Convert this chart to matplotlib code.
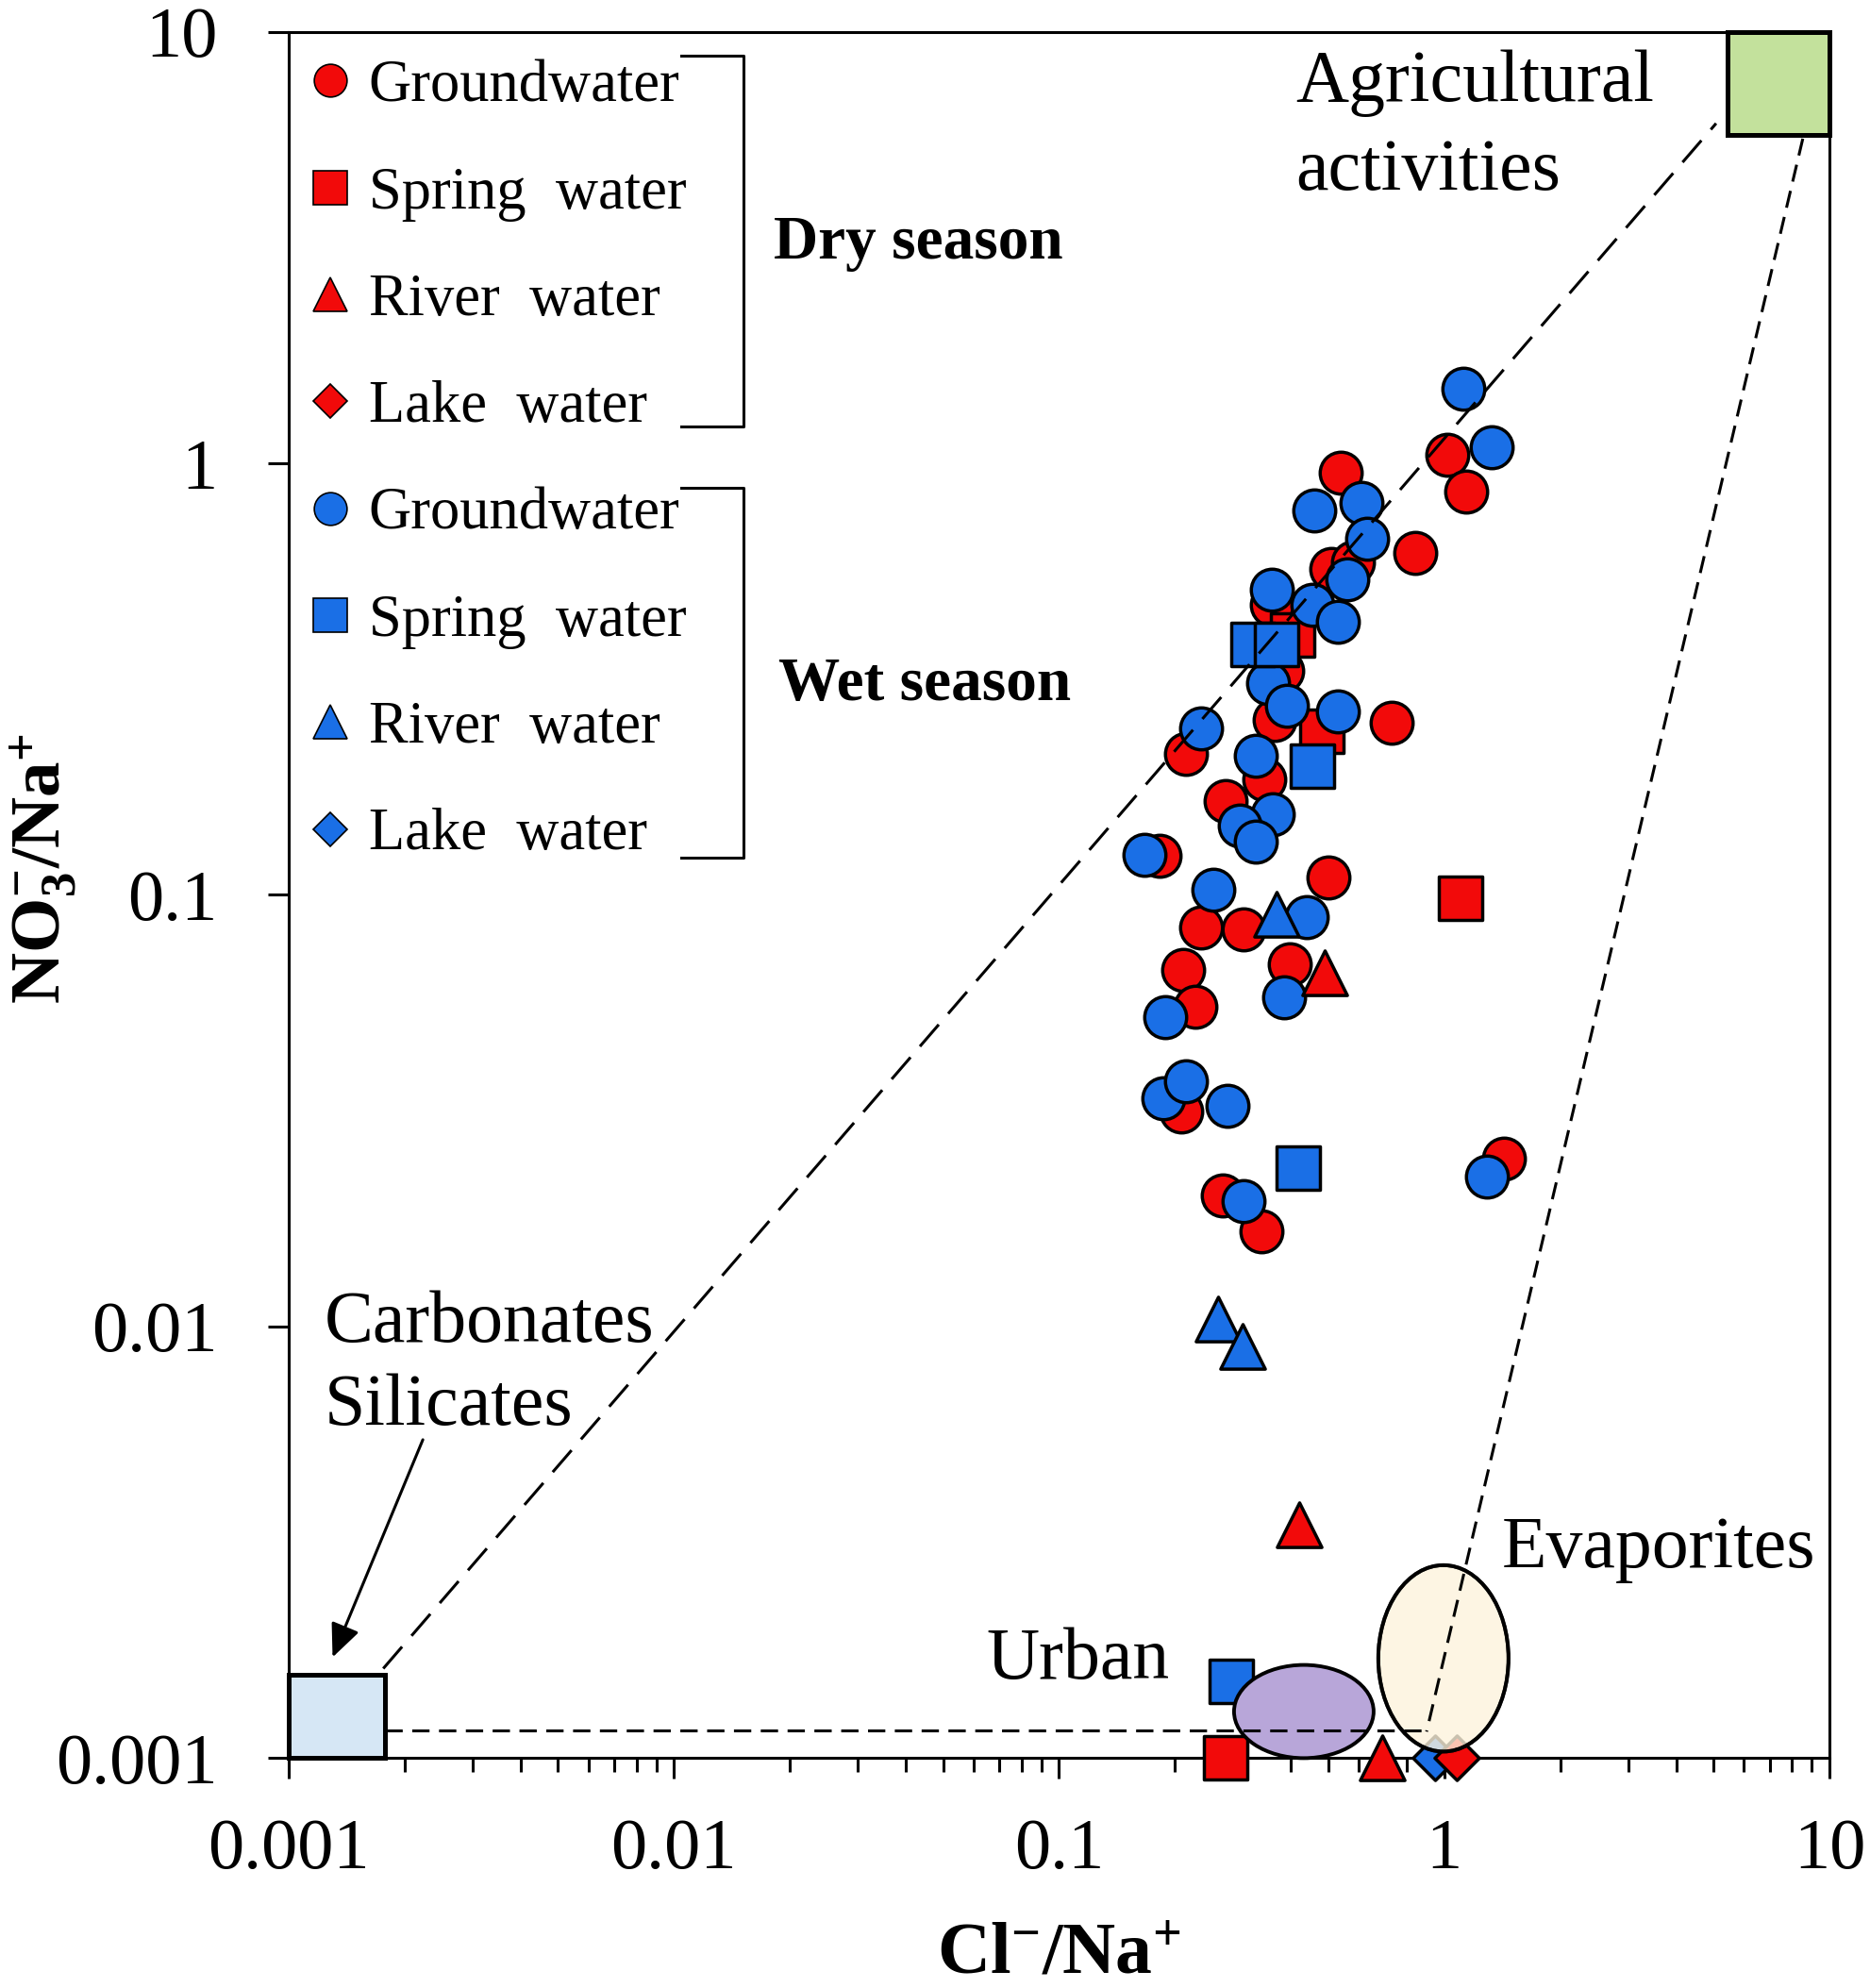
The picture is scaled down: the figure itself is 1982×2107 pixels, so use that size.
import numpy as np
import matplotlib.pyplot as plt
from matplotlib.lines import Line2D
from matplotlib.patches import Rectangle, Ellipse
from matplotlib.ticker import FuncFormatter, NullFormatter, NullLocator, LogLocator

plt.rcParams['font.family'] = ['Liberation Serif', 'DejaVu Serif']
plt.rcParams['mathtext.fontset'] = 'custom'
plt.rcParams['mathtext.rm'] = 'Liberation Serif'
plt.rcParams['mathtext.bf'] = 'Liberation Serif:bold'
plt.rcParams['mathtext.it'] = 'Liberation Serif:italic'

# Dry season (red)
dry_gw_x = [1.02, 1.14, 0.54, 0.84, 0.51, 0.58, 0.356, 0.38, 0.362, 0.73, 0.214, 0.342, 0.27,
            0.182, 0.50, 0.234, 0.302, 0.21, 0.398, 0.226, 0.208, 1.43, 0.266, 0.336]
dry_gw_y = [1.05, 0.86, 0.95, 0.62, 0.57, 0.59, 0.47, 0.33, 0.255, 0.25, 0.212, 0.185, 0.165,
            0.123, 0.110, 0.084, 0.083, 0.067, 0.069, 0.055, 0.0315, 0.0245, 0.0201, 0.0166]
dry_sp_x = [0.405, 0.48, 1.10, 0.27]
dry_sp_y = [0.40, 0.24, 0.098, 0.001]
dry_rv_x = [0.49, 0.42, 0.69]
dry_rv_y = [0.066, 0.00347, 0.001]
dry_lk_x = [1.08]
dry_lk_y = [0.001]

# Wet season (blue)
wet_gw_x = [1.12, 1.33, 0.46, 0.61, 0.63, 0.56, 0.356, 0.454, 0.53, 0.348, 0.39, 0.53, 0.234,
            0.324, 0.358, 0.294, 0.324, 0.167, 0.251, 0.44, 0.189, 0.383, 0.186, 0.214, 0.273,
            1.29, 0.302]
wet_gw_y = [1.49, 1.09, 0.78, 0.81, 0.67, 0.54, 0.51, 0.47, 0.43, 0.31, 0.275, 0.266, 0.243,
            0.21, 0.154, 0.145, 0.133, 0.124, 0.103, 0.089, 0.052, 0.058, 0.0337, 0.0369, 0.0325,
            0.0222, 0.0195]
wet_sp_x = [0.318, 0.366, 0.454, 0.417, 0.28]
wet_sp_y = [0.38, 0.38, 0.199, 0.0233, 0.0015]
wet_rv_x = [0.366, 0.258, 0.299]
wet_rv_y = [0.090, 0.0104, 0.0090]
wet_lk_x = [0.945]
wet_lk_y = [0.001]

legend_labels = ['Groundwater', 'Spring  water', 'River  water', 'Lake  water']

RED = '#f20a0a'
BLUE = '#1a6fe6'

fig = plt.figure(figsize=(19.83, 21.07), dpi=100)
ax = fig.add_axes([0.1543, 0.1158, 0.8235, 0.8681])
ax.set_xscale('log')
ax.set_yscale('log')
ax.set_xlim(0.001, 10)
ax.set_ylim(0.001, 10)

common = dict(edgecolors='black', linewidths=2.5, clip_on=False)
ax.scatter(dry_gw_x, dry_gw_y, s=32**2, marker='o', c=RED, zorder=3, **common)
ax.scatter(dry_sp_x, dry_sp_y, s=33**2, marker='s', c=RED, zorder=3.1, **common)
ax.scatter(wet_gw_x, wet_gw_y, s=32**2, marker='o', c=BLUE, zorder=4, **common)
ax.scatter(wet_sp_x, wet_sp_y, s=33**2, marker='s', c=BLUE, zorder=4.1, **common)
ax.scatter(wet_rv_x, wet_rv_y, s=34**2, marker='^', c=BLUE, zorder=4.2, **common)
ax.scatter(wet_lk_x, wet_lk_y, s=24**2, marker='D', c=BLUE, zorder=4.3, **common)
ax.scatter(dry_lk_x, dry_lk_y, s=24**2, marker='D', c=RED, zorder=4.4, **common)
ax.scatter(dry_rv_x, dry_rv_y, s=34**2, marker='^', c=RED, zorder=6, **common)

# source end-members
ax.add_patch(Rectangle((0.001, 0.001), 0.00178 - 0.001, 0.00156 - 0.001,
                       facecolor='#d6e7f5', edgecolor='black', lw=3.6, zorder=5, clip_on=False))
ax.add_patch(Rectangle((5.43, 5.77), 10 - 5.43, 10 - 5.77,
                       facecolor='#c3e19c', edgecolor='black', lw=3.6, zorder=5, clip_on=False))


def to_axes(x, y):
    return ax.transAxes.inverted().transform(ax.transData.transform((x, y)))


ax.add_patch(Ellipse(to_axes(0.432, 0.00128), 0.0906, 0.054, transform=ax.transAxes,
                     facecolor='#b8a6d9', edgecolor='black', lw=2.8, zorder=4.6, clip_on=False))
ax.add_patch(Ellipse(to_axes(0.995, 0.0017), 0.0845, 0.108, transform=ax.transAxes,
                     facecolor='#fdf3dc', edgecolor='black', lw=2.8, alpha=0.8, zorder=5,
                     clip_on=False))
ax.add_patch(Ellipse(to_axes(0.995, 0.0017), 0.0845, 0.108, transform=ax.transAxes,
                     facecolor='none', edgecolor='black', lw=2.8, zorder=5.1, clip_on=False))

# mixing lines
ax.plot([0.00176, 5.08], [0.00161, 6.14], color='black', lw=2.2, ls=(0, (10, 5)), zorder=7)
ax.plot([0.00178, 0.9], [0.00116, 0.00116], color='black', lw=2.2, ls=(0, (6, 3.3)), zorder=7)
ax.plot([8.53, 0.9], [5.66, 0.00115], color='black', lw=2.2, ls=(0, (6, 3.3)), zorder=7)

ax.annotate('', xy=(0.0013, 0.00171), xytext=(0.00223, 0.00546),
            arrowprops=dict(arrowstyle='-|>,head_length=0.45,head_width=0.2', color='black',
                            lw=2.2, mutation_scale=48, shrinkA=0, shrinkB=0), zorder=7)

ax.text(0.6534, 0.9445, 'Agricultural\nactivities', transform=ax.transAxes, fontsize=56,
        ha='left', va='center', linespacing=1.42)
ax.text(0.0233, 0.2275, 'Carbonates\nSilicates', transform=ax.transAxes, fontsize=56,
        ha='left', va='center', linespacing=1.3)
ax.text(0.7875, 0.1208, 'Evaporites', transform=ax.transAxes, fontsize=56, ha='left', va='center')
ax.text(0.4525, 0.0563, 'Urban', transform=ax.transAxes, fontsize=56, ha='left', va='center')

# legend
handles = []
for col in (RED, BLUE):
    handles += [Line2D([], [], ls='none', marker='o', ms=25, mfc=col, mec='black', mew=1.2),
                Line2D([], [], ls='none', marker='s', ms=26, mfc=col, mec='black', mew=1.2),
                Line2D([], [], ls='none', marker='^', ms=26, mfc=col, mec='black', mew=1.2),
                Line2D([], [], ls='none', marker='D', ms=18, mfc=col, mec='black', mew=1.2)]
ax.legend(handles, legend_labels * 2, loc='upper left', bbox_to_anchor=(0.0116, 0.984),
          frameon=False, fontsize=45, handlelength=0.8, handletextpad=0.25, labelspacing=0.885,
          borderpad=0, borderaxespad=0)

for top, bot in ((0.9863, 0.7715), (0.7359, 0.5216)):
    ax.plot([0.2547, 0.2952, 0.2952, 0.2547], [top, top, bot, bot], transform=ax.transAxes,
            color='black', lw=2.2, clip_on=False)
ax.text(0.3148, 0.8775, 'Dry season', transform=ax.transAxes, fontsize=47, fontweight='bold',
        ha='left', va='center')
ax.text(0.318, 0.6217, 'Wet season', transform=ax.transAxes, fontsize=47, fontweight='bold',
        ha='left', va='center')

# axes
fmt = FuncFormatter(lambda v, pos: f'{v:g}')
ax.xaxis.set_major_formatter(fmt)
ax.yaxis.set_major_formatter(fmt)
ax.xaxis.set_minor_locator(LogLocator(base=10, subs=np.arange(2, 10)))
ax.xaxis.set_minor_formatter(NullFormatter())
ax.yaxis.set_minor_locator(NullLocator())
ax.tick_params(axis='both', which='major', direction='out', length=16, width=2.2, labelsize=55)
ax.tick_params(axis='x', which='major', pad=30)
ax.tick_params(axis='y', which='major', pad=38)
ax.tick_params(axis='x', which='minor', direction='out', length=11, width=2.2)
for sp in ax.spines.values():
    sp.set_linewidth(2.2)

ax.set_xlabel(r'$\mathbf{Cl^{-}/Na^{+}}$', fontsize=56)
ax.xaxis.set_label_coords(0.5, -0.095)
ax.set_ylabel(r'$\mathbf{NO_3^{-}/Na^{+}}$', fontsize=54)
ax.yaxis.set_label_coords(-0.136, 0.515)

fig.savefig('out.png', dpi=100)
